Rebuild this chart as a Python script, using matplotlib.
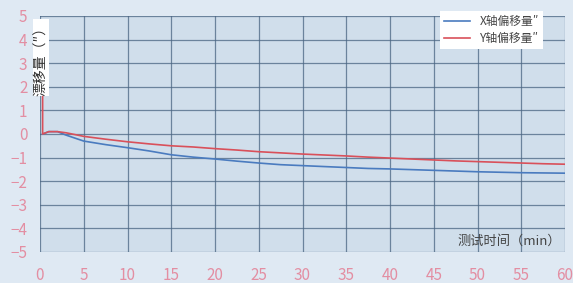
import matplotlib.pyplot as plt

plt.rcParams['font.family'] = ['Noto Sans CJK SC', 'DejaVu Sans']

# time (min)
t = [0.3, 0.3, 1, 2, 3, 5, 7.5, 10, 12.5, 15, 17.5, 20, 22.5, 25, 27.5, 30,
     32.5, 35, 37.5, 40, 42.5, 45, 47.5, 50, 52.5, 55, 57.5, 60]
# X axis drift
x_drift = [0.0, 0.0, 0.1, 0.1, -0.05, -0.3, -0.45, -0.58, -0.72, -0.88, -0.98, -1.06,
           -1.15, -1.23, -1.3, -1.34, -1.38, -1.42, -1.46, -1.48, -1.51, -1.54, -1.57,
           -1.6, -1.62, -1.64, -1.65, -1.66]
# Y axis drift
y_drift = [1.9, 0.0, 0.1, 0.1, 0.05, -0.1, -0.22, -0.33, -0.42, -0.5, -0.55, -0.62,
           -0.68, -0.75, -0.8, -0.85, -0.89, -0.93, -0.98, -1.02, -1.06, -1.1, -1.14,
           -1.17, -1.2, -1.23, -1.26, -1.28]

fig = plt.figure(figsize=(5.73, 2.83), dpi=100, facecolor='#dfe9f3')
ax = fig.add_axes([40/573, 31/283, 525/573, 236/283])
ax.set_facecolor('#d0deeb')

ax.plot(t, x_drift, color='#4a7bbf', lw=1.2, label='X轴偏移量″')
ax.plot(t, y_drift, color='#d9505a', lw=1.2, label='Y轴偏移量″')

ax.set_xlim(0, 60)
ax.set_ylim(-5, 5)
ax.set_xticks(range(0, 61, 5))
ax.set_yticks(range(-5, 6))
ax.grid(True, color='#4a6582', lw=0.9, alpha=0.75)
for s in ax.spines.values():
    s.set_visible(False)
ax.tick_params(length=0, colors='#e38ea2', labelsize=11)
ax.tick_params(axis='x', pad=11)
ax.tick_params(axis='y', pad=9)

ax.text(-0.7, 4.85, '漂移量（″）', rotation=90, va='top', ha='left', fontsize=10,
        color='#333333', bbox=dict(fc='white', ec='none', pad=0.5))
ax.text(59.5, -4.55, '测试时间（min）', ha='right', va='center', fontsize=9.5,
        color='#444444', style='italic')

leg = ax.legend(loc='upper left', bbox_to_anchor=(440/573, 1 - 11/283),
                bbox_transform=fig.transFigure, fontsize=8.5, frameon=True,
                fancybox=False, borderpad=0.35, handlelength=2.2, labelspacing=0.3,
                borderaxespad=0)
leg.get_frame().set_edgecolor('none')
leg.get_frame().set_facecolor('white')
leg.get_frame().set_alpha(1)
for txt in leg.get_texts():
    txt.set_color('#444444')

fig.savefig('out.png', dpi=100, facecolor=fig.get_facecolor())
